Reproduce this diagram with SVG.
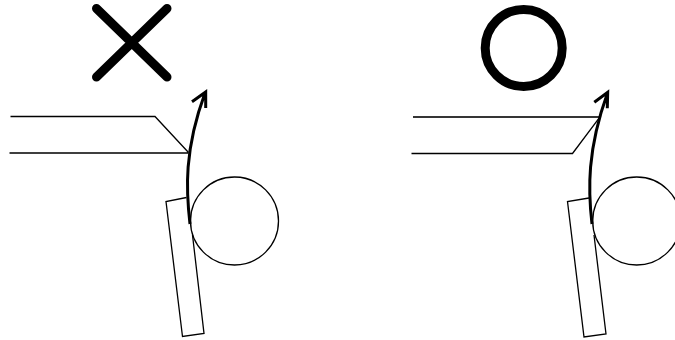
<svg xmlns="http://www.w3.org/2000/svg" width="675" height="340" viewBox="0 0 675 340">
<style>
.t{fill:none;stroke:#000;stroke-width:1.3}
.a{fill:none;stroke:#000;stroke-width:3}
.m{fill:none;stroke:#000;stroke-width:9;stroke-linecap:round}
</style>
<rect width="675" height="340" fill="#fff"/>
<g id="cross"><path class="m" d="M96.500 8.500L167 77M167 8.500L96.500 77"/></g>
<g id="ring"><circle class="m" cx="523.700" cy="48" r="38.500"/></g>
<g id="left-scene">
<path class="t" d="M10.500 116.500H155L188.500 152.500M9.500 153H188.500"/>
<circle class="t" cx="234.500" cy="221" r="44"/>
<path class="t" d="M186.500 197.500L166 201.500L182.500 336.500L204 333.500L192.500 235"/>
</g>
<g id="right-scene">
<path class="t" d="M413 117H600L572.500 153.500H411.500"/>
<path d="M413 117H600" fill="none" stroke="#333" stroke-width="1.500"/>
<circle class="t" cx="636.700" cy="221" r="44"/>
<path class="t" d="M589 198L567.500 201.500L584 337L606 334L594 235"/>
</g>
<g id="connectors">
<path class="a" d="M190 224C186 190 184 150 205 93M192 101.700L205.700 92L205.700 108"/>
<path class="a" d="M592 224C588 190 587 150 607.500 93M594.300 102.300L607.700 92.300L607.300 108.300"/>
</g>
</svg>
